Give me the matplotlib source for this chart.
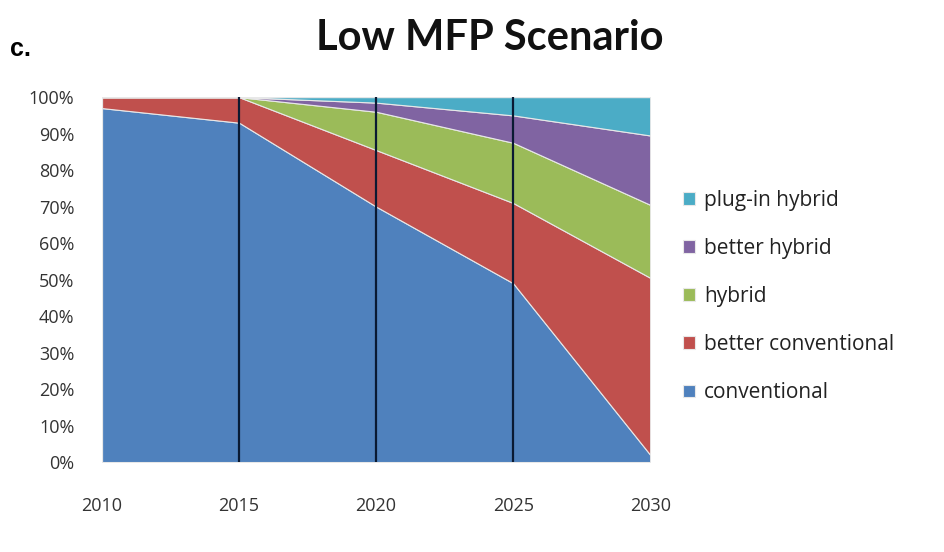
import matplotlib.pyplot as plt
import numpy as np

years = [2010, 2015, 2020, 2025, 2030]
conventional = [97, 93, 70, 49, 2]
better_conventional = [3, 7, 15.5, 22, 48.5]
hybrid = [0, 0, 10.5, 16.5, 20]
better_hybrid = [0, 0, 2.5, 7.5, 19]
plug_in_hybrid = [0, 0, 1.5, 5, 10.5]

labels = ['conventional', 'better conventional', 'hybrid', 'better hybrid', 'plug-in hybrid']
colors = ['#4F81BD', '#C0504D', '#9BBB59', '#8064A2', '#4BACC6']

fig = plt.figure(figsize=(9.45, 5.52), dpi=100)
ax = fig.add_axes([0.108, 0.163, 0.580, 0.661])

series = np.array([conventional, better_conventional, hybrid, better_hybrid, plug_in_hybrid])
polys = ax.stackplot(years, series, colors=colors, labels=labels,
                     edgecolor='#e8e8e8', linewidth=0.8)

# dark vertical lines at the inner ticks
for yr in years[1:-1]:
    ax.axvline(yr, color='#0a1a33', lw=1.6, zorder=3)

ax.set_xlim(2010, 2030)
ax.set_ylim(0, 100)
ax.set_xticks(years)
ax.set_yticks(range(0, 101, 10))
ax.set_yticklabels([f'{v}%' for v in range(0, 101, 10)])
for s in ax.spines.values():
    s.set_visible(False)
ax.tick_params(length=0, labelsize=13, colors='#333333')
for lbl in ax.get_xticklabels() + ax.get_yticklabels():
    lbl.set_family('Open Sans')
ax.tick_params(axis='y', pad=20)
ax.tick_params(axis='x', pad=25)

handles, labs = ax.get_legend_handles_labels()
leg = fig.legend(handles[::-1], labs[::-1], loc='upper left', bbox_to_anchor=(0.703, 0.69),
                 frameon=False, handlelength=0.55, handleheight=0.55,
                 handletextpad=0.45, labelspacing=1.3, prop={'family': 'Open Sans', 'size': 15})
for t in leg.get_texts():
    t.set_color('#222222')

fig.text(0.518, 0.932, 'Low MFP Scenario', ha='center', va='center',
         fontsize=30, fontweight='bold', family='Lato', color='#111111')
fig.text(0.011, 0.912, 'c.', ha='left', va='center', fontsize=18,
         fontweight='bold', family='Liberation Sans')

fig.savefig('out.png', dpi=100)
